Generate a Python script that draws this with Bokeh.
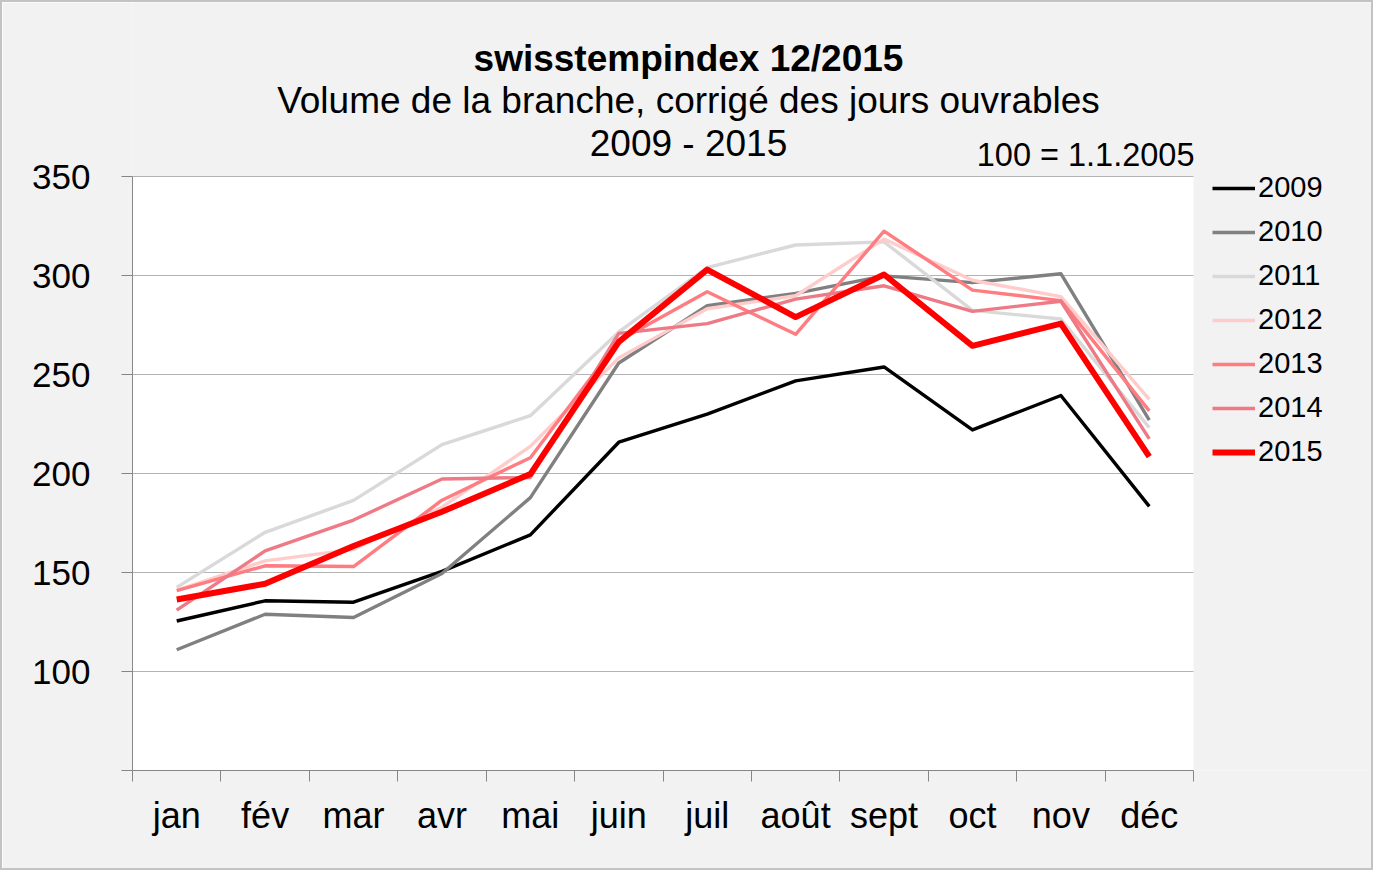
from bokeh.plotting import figure
from bokeh.models import Range1d, FixedTicker, Label, Legend, LegendItem, ColumnDataSource
from bokeh.embed import file_html
from bokeh.resources import INLINE

months = ["jan", "fév", "mar", "avr", "mai", "juin", "juil", "août", "sept", "oct", "nov", "déc"]
years = ["2009", "2010", "2011", "2012", "2013", "2014", "2015"]

v2009 = [125.5, 135.7, 135.0, 150.6, 169.0, 215.8, 230.0, 246.8, 253.8, 222.0, 239.4, 183.4]
v2010 = [111.0, 128.9, 127.3, 149.5, 187.8, 255.8, 284.7, 291.0, 299.8, 296.4, 300.9, 227.0]
v2011 = [142.5, 170.3, 186.4, 214.6, 229.2, 271.5, 304.0, 315.4, 317.0, 282.4, 278.0, 223.2]
v2012 = [141.0, 155.9, 161.7, 183.0, 213.7, 258.4, 283.2, 289.8, 318.4, 297.6, 289.3, 237.4]
v2013 = [140.8, 153.4, 153.0, 186.5, 208.0, 267.0, 291.8, 270.3, 322.4, 292.6, 287.3, 231.6]
v2014 = [131.0, 160.9, 176.5, 197.2, 198.0, 270.8, 275.7, 288.1, 294.8, 281.9, 287.0, 217.5]
v2015 = [136.4, 144.3, 163.4, 180.7, 199.7, 266.5, 303.0, 279.0, 300.5, 264.5, 275.7, 208.5]

y_ticks = [50, 100, 150, 200, 250, 300, 350]

title = "swisstempindex 12/2015"
subtitle = "Volume de la branche, corrigé des jours ouvrables"
period = "2009 - 2015"
base_note = "100 = 1.1.2005"

series = [v2009, v2010, v2011, v2012, v2013, v2014, v2015]
colors = ["#000000", "#808080", "#d9d9d9", "#ffcccc", "#ff7c80", "#ee7a86", "#ff0000"]
widths = [3.4, 3.4, 3.4, 3.4, 3.4, 3.4, 6]

FONT = "Liberation Sans"
n = len(months)
x_pos = list(range(1, n + 1))
x_lo, x_hi = 0.5, n + 0.5
y_lo, y_hi = y_ticks[0], y_ticks[-1]

W, H = 1373, 870
ML, MB = 130, 102              # left / bottom panels (axes)
PLOT_W, PLOT_TOP = 1061, 174   # plot-area width and top offset inside the canvas
px_x = PLOT_W / (x_hi - x_lo)
px_y = (H - MB - PLOT_TOP) / (y_hi - y_lo)
x_end = x_lo + (W - ML) / px_x
y_end = y_lo + (H - MB) / px_y

p = figure(width=W, height=H, output_backend="svg", toolbar_location=None,
           x_range=Range1d(x_lo, x_end), y_range=Range1d(y_lo, y_end),
           min_border_left=ML, min_border_right=0, min_border_top=0, min_border_bottom=MB)
p.border_fill_color = "#f2f2f2"
p.background_fill_color = "#f2f2f2"
p.outline_line_color = None
p.styles = {"border": "2px solid #c3c3c3", "box-sizing": "border-box"}

# white plot area
p.quad(left=x_lo, right=x_hi, bottom=y_lo, top=y_hi, fill_color="#ffffff", line_color=None, level="image")

# horizontal gridlines limited to the plot area
grid_y = y_ticks[1:]
p.segment(x0=[x_lo] * len(grid_y), x1=[x_hi] * len(grid_y), y0=grid_y, y1=grid_y,
          line_color="#b3b3b3", line_width=1, level="underlay")

# y axis
p.yaxis.ticker = FixedTicker(ticks=y_ticks)
p.yaxis.bounds = (y_lo, y_hi)
p.yaxis.major_label_overrides = {50: ""}
p.yaxis.axis_line_color = "#868686"
p.yaxis.major_tick_line_color = "#868686"
p.yaxis.major_tick_out = 11
p.yaxis.major_tick_in = 0
p.yaxis.minor_tick_line_color = None
p.yaxis.major_label_text_font = FONT
p.yaxis.major_label_text_font_size = "35px"
p.yaxis.major_label_text_color = "#000000"
p.yaxis.major_label_standoff = 31

# x axis
p.xaxis.ticker = FixedTicker(ticks=x_pos, minor_ticks=[i + 0.5 for i in range(0, n + 1)])
p.xaxis.bounds = (x_lo, x_hi)
p.xaxis.major_label_overrides = {i: m for i, m in zip(x_pos, months)}
p.xaxis.axis_line_color = "#868686"
p.xaxis.major_tick_line_color = None
p.xaxis.major_tick_out = 0
p.xaxis.major_tick_in = 0
p.xaxis.minor_tick_line_color = "#868686"
p.xaxis.minor_tick_out = 11
p.xaxis.minor_tick_in = 0
p.xaxis.major_label_text_font = FONT
p.xaxis.major_label_text_font_size = "36px"
p.xaxis.major_label_text_color = "#000000"
p.xaxis.major_label_standoff = 13

p.grid.grid_line_color = None

items = []
for yr, vals, c, w in zip(years, series, colors, widths):
    src = ColumnDataSource(dict(x=x_pos, y=vals))
    r = p.line("x", "y", source=src, line_color=c, line_width=w, line_join="round")
    items.append(LegendItem(label=yr, renderers=[r]))

legend = Legend(items=items, location=(1080, 302))
legend.background_fill_alpha = 0
legend.border_line_alpha = 0
legend.label_text_font = FONT
legend.label_text_font_size = "29px"
legend.label_text_color = "#000000"
legend.glyph_width = 43
legend.glyph_height = 30
legend.label_height = 30
legend.spacing = 11
legend.padding = 0
legend.margin = 0
legend.label_standoff = 3
p.add_layout(legend)

def add_label(txt, x, y, size, bold=False, align="center"):
    p.add_layout(Label(x=x, y=y, x_units="screen", y_units="screen", text=txt,
                       text_font=FONT, text_font_size=size,
                       text_font_style="bold" if bold else "normal",
                       text_align=align, text_baseline="middle", text_color="#000000"))

add_label(title, 556, 712, "37px", bold=True)
add_label(subtitle, 556, 670, "37px")
add_label(period, 556, 627, "37px")
add_label(base_note, 1062, 616, "32.5px", align="right")

open("out.html", "w").write(file_html(p, INLINE))
